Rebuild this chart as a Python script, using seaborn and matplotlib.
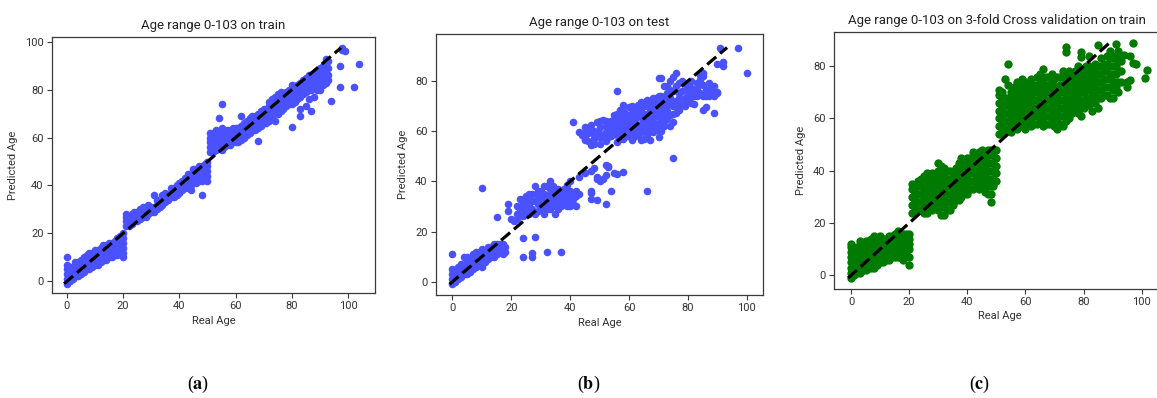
import matplotlib
matplotlib.use("Agg")
import matplotlib.pyplot as plt
import seaborn as sns
import pandas as pd

# ---------------- data ----------------
# (a) train
a_ages_1 = [0, 1, 2, 3, 4, 5, 6, 7, 8, 9, 10, 11, 12, 13, 14, 15, 16, 17, 18, 19, 20]
a_preds_1 = [[-1, 1, 3, 5, 7, 10], [0, 2, 4, 6], [1, 3, 5], [2, 4, 6, 8], [2, 4, 6, 8],
             [3, 5, 7, 9], [4, 6, 8, 10], [5, 7, 9, 11], [5, 7, 9, 11, 12], [6, 8, 10, 12],
             [7, 9, 11, 13], [7, 9, 11, 13], [8, 10, 12, 14], [9, 11, 13, 15], [9, 11, 13, 15],
             [10, 12, 14, 16], [10, 12, 14, 16], [11, 13, 15, 17], [11, 13, 15, 17, 18],
             [12, 14, 16, 18, 19], [10, 12, 14, 16, 18, 20]]
a_ages_2 = [21, 22, 23, 24, 25, 26, 27, 28, 29, 30, 31, 32, 33, 34, 35, 36, 37, 38, 39, 40,
            41, 42, 43, 44, 45, 46, 47, 48, 49, 50]
a_preds_2 = [[23, 25, 27, 28], [23, 25, 27], [24, 26, 28], [25, 27, 29], [25, 27, 29],
             [26, 28, 30], [27, 29, 31], [27, 29, 31], [28, 30, 32], [29, 31], [29, 31, 36],
             [30, 32, 34], [31, 33], [32, 34, 36], [33, 35, 37], [34, 36], [35, 37, 39],
             [35, 37, 39], [36, 38, 40], [37, 39, 41], [38, 40, 42], [39, 41, 43],
             [39, 41, 43, 45], [38, 40, 42, 44], [41, 43, 45, 47], [41, 43, 45, 47],
             [42, 44, 46, 48], [36, 42, 44, 46, 48], [43, 45, 47, 49], [42, 44, 46, 48, 50]]
a_ages_3 = [51, 52, 53, 54, 55, 56, 57, 58, 59, 60, 61, 62, 63, 64, 65, 66, 67, 68, 69, 70,
            71, 72, 73, 74, 75, 76, 77, 78, 79, 80, 81, 82, 83, 84, 85, 86, 87, 88, 89, 90,
            91, 92, 93, 94, 97, 98, 99, 102, 104]
a_preds_3 = [[54, 56, 58, 60, 62], [54, 56, 58, 60, 62], [55, 57, 59, 61, 63],
             [56, 58, 60, 62, 68], [55, 57, 59, 61, 64, 74], [56, 58, 60, 62], [57, 59, 61, 63],
             [57, 59, 61, 63], [58, 60, 62, 64], [58, 60, 62, 64], [58, 60, 62, 64],
             [59, 61, 63, 65, 69], [60, 62, 64, 66], [61, 63, 65, 67], [62, 64, 66, 68],
             [63, 65, 67, 69], [63, 65, 67, 69], [58.6, 64, 66, 68, 70], [65, 67, 69, 71],
             [66, 68, 70, 72], [66, 68, 70, 72], [67, 69, 71, 73, 75], [68, 70, 72, 74, 76],
             [67, 71, 73, 75, 77], [70, 72, 74, 76, 78], [71, 73, 75, 77, 79], [72, 74, 76, 78],
             [73, 75, 77, 79], [74, 76, 78, 80], [64.6, 74, 76, 78, 80, 82], [75, 77, 79, 81],
             [76, 78, 80, 82], [69, 72, 77, 79, 81, 83], [78, 80, 82, 84], [73, 79, 81, 83, 85],
             [76, 80, 82, 84, 86], [71, 80, 82, 84, 86], [77, 81, 83, 85, 87],
             [80, 82, 84, 86, 88], [80, 83, 85, 87, 89], [82, 84, 86, 88, 90],
             [83, 85, 87, 89, 91, 93], [84, 86, 89, 92], [75.4], [81.3, 90], [96.5, 97.5],
             [96], [81.3], [90.6]]

# (b) test
b_ages_1 = [0, 1, 2, 3, 4, 5, 6, 7, 8, 9, 10, 11, 12, 13, 14, 15, 16, 17, 18]
b_preds_1 = [[-1, 1, 3, 5, 11], [0, 2, 4], [1, 3, 6], [2, 4, 7], [3, 5, 10], [3, 6, 8, 10],
             [4, 7, 9], [5, 8, 11], [6, 9, 11, 12], [7, 10, 12], [6, 9, 11, 13, 37.5],
             [8, 10, 12], [9, 11, 13, 14], [10, 12, 14], [10, 12, 15], [11, 13, 15, 25.7],
             [12, 14, 15], [11, 13, 15], [12, 14]]
b_ages_2 = [19, 20, 21, 22, 23, 24, 25, 26, 27, 28, 29, 30, 31, 32, 33, 34, 35, 36, 37, 38,
            39, 40, 41, 42, 43]
b_preds_2 = [[31, 28], [25], [24], [25, 27, 30], [33, 29], [26, 28, 31, 33, 17.5, 10],
             [28, 31, 34], [27, 30, 33, 35], [29, 32, 35, 10, 11.5], [27, 32, 38, 18],
             [28, 31, 34, 36], [29, 31, 33, 36], [27, 31, 33, 35, 38], [29, 31, 34, 38, 12],
             [29, 32, 35, 37, 40], [30, 33, 36, 38], [27, 31, 33, 35, 37], [29, 32, 34, 37],
             [30, 34, 36, 12], [31, 33, 35, 37], [30, 32, 35, 38.5], [30, 34, 36, 40],
             [31, 33, 35, 63.5], [30, 34, 36], [35, 41.6]]
b_ages_3 = [43, 44, 45, 46, 47, 48, 49, 50, 51, 52, 53, 54, 55, 56, 57, 58, 59, 60, 61, 62,
            63, 64, 65, 66, 67, 68, 69, 70, 71, 72, 73, 74, 75, 76, 77, 78, 79, 80, 81, 82,
            83, 84, 85, 86, 87, 88, 89, 90, 91, 92, 97, 100]
b_preds_3 = [[59.8], [58.5], [43.2, 56.5, 57, 58, 59.8, 61.8], [56, 59.1, 61],
             [33, 35.2, 36, 44.3, 54.5, 62.5], [45.2, 55, 57, 58.5, 60],
             [32.6, 40.9, 41.9, 59.8, 63.8], [40, 55, 57.8, 59, 61.8, 64],
             [40.9, 57.8, 64.5], [30.8, 42.5, 46.5, 56, 59.8, 62, 64],
             [45.8, 46, 57.8, 63.8], [36.1, 58, 60, 61.8, 63, 64],
             [43.2, 60.5, 66.4], [42.9, 55.8, 58.5, 60, 62.5, 64, 67, 76],
             [57, 60, 62, 65, 66.4, 68.4], [43.9, 57, 59.1, 61.8, 63, 66, 68, 70.4],
             [58, 61, 62, 64.5, 67], [58, 59.8, 62, 64, 66, 69.8],
             [56.5, 57.8, 60, 62.5, 64, 67.1, 70], [58, 60, 63, 65, 68],
             [58.5, 60, 62.5, 66, 68, 70.4], [56.5, 59.8, 61, 63, 65.8, 68, 71.8],
             [57, 60, 61.8, 63, 67, 70], [36, 58.5, 60, 62, 64.5, 67, 70, 72.4],
             [56.5, 60, 61.1, 63, 65.8, 68, 71.1], [59.8, 62, 64, 66, 68.4, 70, 72, 73.1],
             [61, 63, 66, 68, 71.1, 73], [57.8, 60, 62, 65.8, 68, 70, 73.8, 81.1],
             [60, 63.8, 66, 70, 72.4, 74, 81.1], [62, 64, 66.4, 69, 72, 78],
             [65, 68, 70, 73.8, 75, 78], [62, 66.4, 71.1, 73, 76.4, 80],
             [49.2, 63.8, 67, 70, 72, 76, 81.7], [67.1, 70, 72, 78, 83.1],
             [68.4, 71, 73.1, 75, 79], [71, 76, 80], [70, 73, 76.4, 79.1], [71.8, 73.8, 76, 78],
             [71.1, 74, 77, 80], [71, 73.8, 76], [73.8, 77.1, 79], [75, 80.4, 82.4],
             [68.4, 74, 78.4, 82, 83.3], [69.8, 73.8, 76.4], [74, 79], [75, 77],
             [67.1, 74, 76, 78], [75.1, 75.7, 86.6], [93.3], [86, 87.4], [93.3], [83.1]]

# (c) 3-fold cross validation on train
c_ages_1 = [0, 1, 2, 3, 4, 5, 6, 7, 8, 9, 10, 11, 12, 13, 14, 15, 16, 17, 18, 19, 20]
c_preds_1 = [[-1, 1, 3, 5, 7, 9, 11, 12], [0, 2, 4, 6, 8, 10], [1, 3, 5, 7, 9, 11],
             [1, 4, 7, 10, 13], [2, 4, 6, 8, 10, 12], [2, 5, 8, 11, 13],
             [3, 5, 7, 9, 11, 13], [3, 6, 9, 12, 14], [3, 5, 7, 9, 11, 13, 15],
             [4, 7, 10, 13], [5, 7, 9, 11, 13, 15], [5, 8, 11, 14], [6, 8, 10, 12, 14],
             [6, 9, 12, 15], [7, 9, 11, 13, 15], [7, 10, 13, 16], [7, 9, 11, 13, 15, 17],
             [7, 10, 13, 16], [6, 8, 10, 12, 14, 16], [8, 11, 14, 16], [4, 7, 10, 12, 14, 16]]
c_ages_2 = [21, 22, 23, 24, 25, 26, 27, 28, 29, 30, 31, 32, 33, 34, 35, 36, 37, 38, 39, 40,
            41, 42, 43, 44, 45, 46, 47, 48, 49, 50]
c_preds_2 = [[24, 27, 30, 33, 35], [26, 29, 32, 34], [25, 28, 31, 34, 36],
             [25, 28, 31, 34, 37], [24, 27, 30, 33, 36, 38], [24, 27, 30, 33, 36, 39],
             [25, 28, 31, 34, 37], [25, 28, 31, 34, 37, 39], [26, 29, 32, 35, 38],
             [25, 28, 31, 34, 37, 40, 43], [23, 27, 30, 33, 36, 39, 42],
             [23, 26, 29, 32, 35, 38, 41], [25, 28, 31, 34, 37, 40], [25, 28, 31, 34, 37, 40],
             [27, 30, 33, 36, 39], [29, 32, 35, 38, 41], [29, 32, 35, 38, 41, 43],
             [30, 33, 36, 39, 42, 45], [32, 35, 38, 41, 44], [31, 34, 37, 40, 43, 45],
             [33, 36, 39, 42, 45], [33, 36, 39, 42, 45, 47], [34, 37, 40, 43, 46],
             [33, 36, 39, 42, 45, 47], [34, 37, 40, 43, 46, 48], [32, 35, 38, 41, 44, 47],
             [31, 34, 37, 40, 43, 46, 48], [28, 31, 34, 37, 40, 43, 46, 48],
             [34, 37, 40, 43, 46, 48], [36, 39, 42, 45, 48]]
c_ages_3 = [51, 52, 53, 54, 55, 56, 57, 58, 59, 60, 61, 62, 63, 64, 65, 66, 67, 68, 69, 70,
            71, 72, 73, 74, 75, 76, 77, 78, 79, 80, 81, 82, 83, 84, 85, 86, 87, 88, 89, 90,
            91, 92, 93, 94, 95, 96, 97, 98, 101, 102]
c_preds_3 = [[54, 57, 60, 63, 66, 69, 71], [55, 58, 61, 64, 67, 70], [56, 59, 62, 65, 68, 75],
             [56, 59, 62, 65, 68, 73, 81], [55, 58, 61, 64, 67, 70], [57, 60, 63, 66, 69, 72],
             [56, 59, 62, 65, 68, 71, 74], [58, 61, 64, 67, 70, 73],
             [57, 60, 63, 66, 69, 72, 75], [56, 59, 62, 65, 68, 71, 74],
             [58, 61, 64, 67, 70, 73], [57, 60, 63, 66, 69, 72, 75], [58, 61, 64, 67, 70, 73],
             [58, 61, 64, 67, 70, 73, 76], [59, 62, 65, 68, 71, 74, 77],
             [57, 60, 63, 66, 69, 72, 75, 79], [58, 61, 64, 67, 70, 73, 76],
             [58, 61, 64, 67, 70, 73, 76], [59, 62, 65, 68, 71, 74, 77],
             [57, 60, 63, 66, 69, 72, 75], [56, 60, 63, 66, 69, 72, 76],
             [58, 61, 64, 67, 70, 73, 76], [57, 61, 64, 67, 70, 73, 76, 78],
             [59, 62, 65, 68, 71, 74, 77, 85.5, 87.5], [60, 63, 66, 69, 72, 75, 78],
             [62, 65, 68, 71, 74, 77], [63, 66, 69, 72, 75, 78], [62, 65, 68, 71, 74, 77, 80],
             [61, 64, 67, 70, 73, 76, 79, 83.5, 85.5], [64, 67, 70, 73, 76, 79],
             [65, 68, 71, 74, 77, 80], [65, 68, 71, 74, 77, 80, 84], [63, 67, 70, 73, 76, 79],
             [66, 69, 72, 75, 78, 81], [64, 68, 71, 74, 77, 80, 88], [68, 71, 74, 77, 80, 83],
             [69, 72, 75, 78, 81], [69, 72, 75, 78, 81, 84], [68, 72, 76, 80, 83, 86],
             [68, 71, 74, 77, 80, 83], [72, 74, 77, 80, 84, 88.5], [70, 74, 78, 82, 86],
             [74, 78, 82, 84], [84.3], [72.2, 74.1], [74.6, 84], [89, 81.1], [80.9],
             [75.4], [78.5]]

titles = ["Age range 0-103 on train", "Age range 0-103 on test",
          "Age range 0-103 on 3-fold Cross validation on train"]
captions = ["a", "b", "c"]
x_label = "Real Age"
y_label = "Predicted Age"


def expand(ages, groups):
    xs, ys = [], []
    for age, group in zip(ages, groups):
        for v in group:
            xs.append(age)
            ys.append(v)
    return xs, ys


def build(parts):
    xs, ys = [], []
    for ages, groups in parts:
        px, py = expand(ages, groups)
        xs += px
        ys += py
    return pd.DataFrame({"real": xs, "pred": ys})


df_a = build([(a_ages_1, a_preds_1), (a_ages_2, a_preds_2), (a_ages_3, a_preds_3)])
df_b = build([(b_ages_1, b_preds_1), (b_ages_2, b_preds_2), (b_ages_3, b_preds_3)])
df_c = build([(c_ages_1, c_preds_1), (c_ages_2, c_preds_2), (c_ages_3, c_preds_3)])

# ---------------- style ----------------
sns.set_style("ticks")
plt.rcParams["font.family"] = ["Roboto", "DejaVu Sans"]
plt.rcParams["mathtext.fontset"] = "stix"
plt.rcParams["axes.edgecolor"] = "#3a3a3a"
plt.rcParams["axes.linewidth"] = 0.9
plt.rcParams["xtick.color"] = "#3a3a3a"
plt.rcParams["ytick.color"] = "#3a3a3a"
plt.rcParams["xtick.major.size"] = 3.5
plt.rcParams["ytick.major.size"] = 3.5

fig = plt.figure(figsize=(11.57, 3.98), dpi=100)

W, H = 1157.0, 398.0
# axes boxes in pixels: left, top, right, bottom
boxes = [(52, 37, 375, 293), (436, 34, 763, 295), (834, 31.7, 1165.5, 288.7)]
limits = [((-5.3, 109.6), (-4.9, 102.0)),
          ((-5.6, 105.5), (-5.3, 98.7)),
          ((-5.85, 108.2), (-5.1, 93.2))]
yticks = [[0, 20, 40, 60, 80, 100], [0, 20, 40, 60, 80], [0, 20, 40, 60, 80]]
colors = ["#4a52ff", "#4a52ff", "#007a00"]
sizes = [30, 30, 36]
frames = [df_a, df_b, df_c]
cap_x = [198, 589, 980]
title_x = [213, 599, 997]

for i in range(3):
    l, t, r, b = boxes[i]
    ax = fig.add_axes([l / W, 1 - b / H, (r - l) / W, (b - t) / H])
    df = frames[i]
    sns.scatterplot(data=df, x="real", y="pred", color=colors[i], s=sizes[i], linewidth=0,
                    ax=ax, zorder=2)
    lo, hi = df["pred"].min(), df["pred"].max()
    ax.plot([lo, hi], [lo, hi], color="black", linestyle="--", lw=2.3, zorder=3)
    ax.set_xlim(*limits[i][0])
    ax.set_ylim(*limits[i][1])
    ax.set_xticks([0, 20, 40, 60, 80, 100])
    ax.set_yticks(yticks[i])
    ax.tick_params(labelsize=8, colors="#3a3a3a", labelcolor="#333333", width=0.8, pad=2.5)
    ax.set_xlabel(x_label, fontsize=8, color="#333333", labelpad=3)
    ax.set_ylabel(y_label, fontsize=8, color="#333333", labelpad=5)
    fig.text(title_x[i] / W, 1 - (t - 5) / H, titles[i], ha="center", va="bottom",
             fontsize=9.5, color="#222222")
    fig.text(cap_x[i] / W, 1 - 384 / H, "($\\mathbf{" + captions[i] + "}$)",
             ha="center", va="center", fontsize=13, family="Liberation Serif", color="black")

fig.savefig("out.png", dpi=100)
